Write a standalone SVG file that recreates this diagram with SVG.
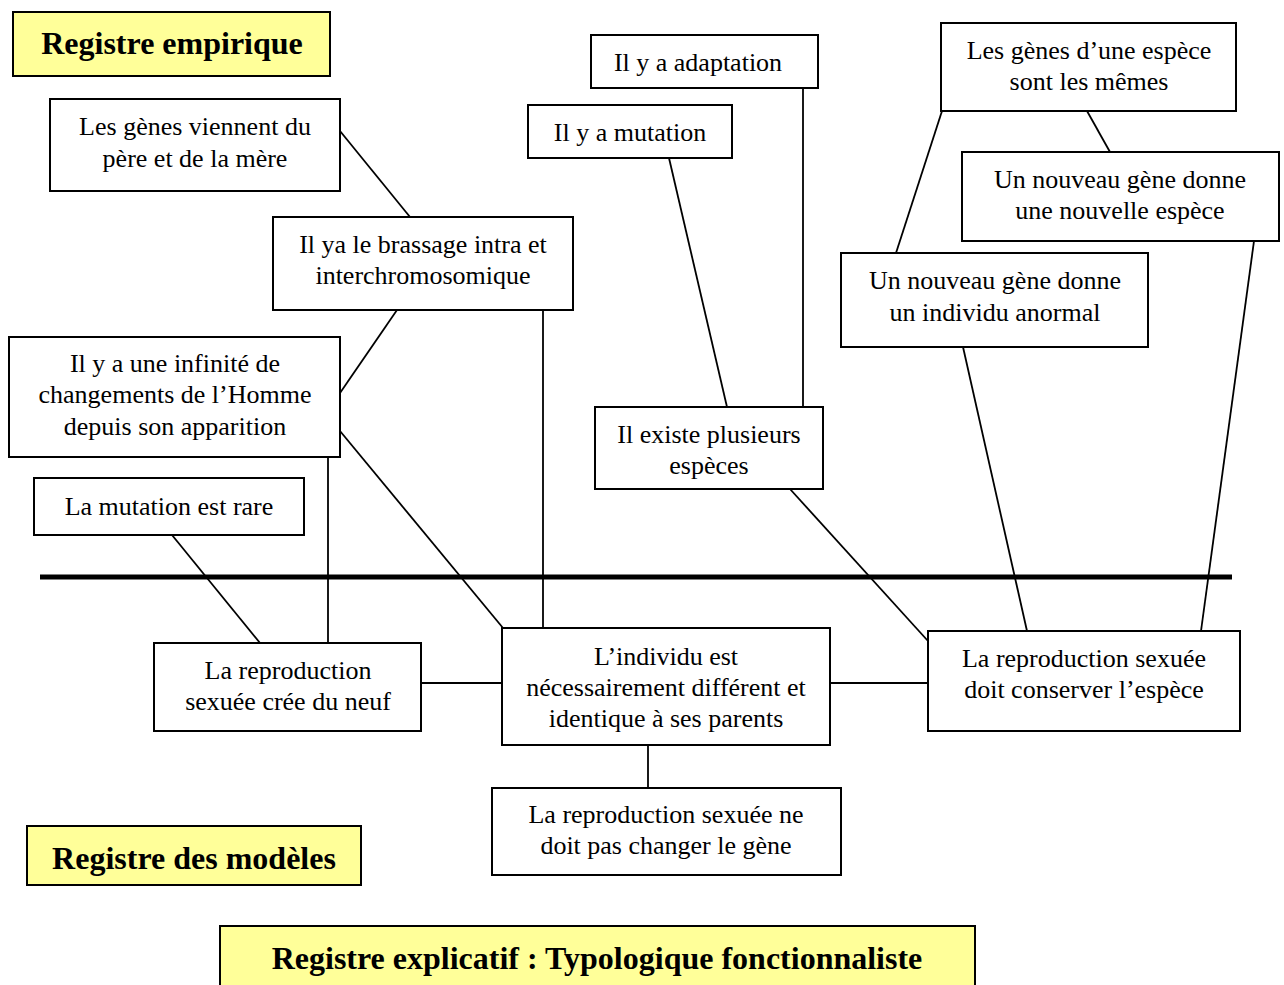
<svg xmlns="http://www.w3.org/2000/svg" width="1284" height="985" viewBox="0 0 1284 985">
<style>
.b{fill:#fff;stroke:#000;stroke-width:2}
.y{fill:#ffff99;stroke:#000;stroke-width:2}
.t{font-family:"Liberation Serif","Times New Roman",serif;font-size:26px;text-anchor:middle;fill:#000}
.h{font-family:"Liberation Serif","Times New Roman",serif;font-size:32px;font-weight:bold;text-anchor:middle;fill:#000}
.c line{stroke:#000;stroke-width:1.8}
</style>
<rect width="1284" height="985" fill="#fff"/>
<g id="connectors" class="c">
<line x1="340" y1="131" x2="410" y2="217"/>
<line x1="397" y1="310" x2="340" y2="393"/>
<line x1="543" y1="310" x2="543" y2="628"/>
<line x1="340" y1="431" x2="503" y2="628"/>
<line x1="328" y1="457" x2="328" y2="643"/>
<line x1="172" y1="535" x2="260" y2="643"/>
<line x1="421" y1="683" x2="502" y2="683"/>
<line x1="830" y1="683" x2="928" y2="683"/>
<line x1="648" y1="745" x2="648" y2="788"/>
<line x1="790" y1="489" x2="928" y2="641"/>
<line x1="669" y1="158" x2="727" y2="407"/>
<line x1="803" y1="88" x2="803" y2="407"/>
<line x1="1087" y1="111" x2="1110" y2="152"/>
<line x1="942" y1="111" x2="896" y2="253"/>
<line x1="1254" y1="241" x2="1201" y2="631"/>
<line x1="963" y1="347" x2="1027" y2="631"/>
<line x1="40" y1="577" x2="1232" y2="577" style="stroke-width:5"/>
</g>
<g id="registre-empirique"><rect class="y" x="13" y="12" width="317" height="64"/><text class="h" x="172" y="54">Registre empirique</text></g>
<g id="genes-pere-mere"><rect class="b" x="50" y="99" width="290" height="92"/><text class="t" x="195" y="135">Les gènes viennent du</text><text class="t" x="195" y="167">père et de la mère</text></g>
<g id="brassage"><rect class="b" x="273" y="217" width="300" height="93"/><text class="t" x="423" y="253">Il ya le brassage intra et</text><text class="t" x="423" y="284">interchromosomique</text></g>
<g id="infinite"><rect class="b" x="9" y="337" width="331" height="120"/><text class="t" x="175" y="372">Il y a une infinité de</text><text class="t" x="175" y="403">changements de l’Homme</text><text class="t" x="175" y="435">depuis son apparition</text></g>
<g id="mutation-rare"><rect class="b" x="34" y="478" width="270" height="57"/><text class="t" x="169" y="515">La mutation est rare</text></g>
<g id="repro-neuf"><rect class="b" x="154" y="643" width="267" height="88"/><text class="t" x="288" y="679">La reproduction</text><text class="t" x="288" y="710">sexuée crée du neuf</text></g>
<g id="individu"><rect class="b" x="502" y="628" width="328" height="117"/><text class="t" x="666" y="665">L’individu est</text><text class="t" x="666" y="696">nécessairement différent et</text><text class="t" x="666" y="727">identique à ses parents</text></g>
<g id="repro-gene"><rect class="b" x="492" y="788" width="349" height="87"/><text class="t" x="666" y="823">La reproduction sexuée ne</text><text class="t" x="666" y="854">doit pas changer le gène</text></g>
<g id="repro-espece"><rect class="b" x="928" y="631" width="312" height="100"/><text class="t" x="1084" y="667">La reproduction sexuée</text><text class="t" x="1084" y="698">doit conserver l’espèce</text></g>
<g id="plusieurs-especes"><rect class="b" x="595" y="407" width="228" height="82"/><text class="t" x="709" y="443">Il existe plusieurs</text><text class="t" x="709" y="474">espèces</text></g>
<g id="adaptation"><rect class="b" x="591" y="35" width="227" height="53"/><text class="t" x="698" y="71">Il y a adaptation</text></g>
<g id="mutation"><rect class="b" x="528" y="105" width="204" height="53"/><text class="t" x="630" y="141">Il y a mutation</text></g>
<g id="genes-espece"><rect class="b" x="941" y="23" width="295" height="88"/><text class="t" x="1089" y="59">Les gènes d’une espèce</text><text class="t" x="1089" y="90">sont les mêmes</text></g>
<g id="nouvelle-espece"><rect class="b" x="962" y="152" width="317" height="89"/><text class="t" x="1120" y="188">Un nouveau gène donne</text><text class="t" x="1120" y="219">une nouvelle espèce</text></g>
<g id="individu-anormal"><rect class="b" x="841" y="253" width="307" height="94"/><text class="t" x="995" y="289">Un nouveau gène donne</text><text class="t" x="995" y="321">un individu anormal</text></g>
<g id="registre-modeles"><rect class="y" x="27" y="826" width="334" height="59"/><text class="h" x="194" y="869">Registre des modèles</text></g>
<g id="registre-explicatif"><rect class="y" x="220" y="926" width="755" height="70"/><text class="h" x="597" y="969">Registre explicatif : Typologique fonctionnaliste</text></g>
</svg>
